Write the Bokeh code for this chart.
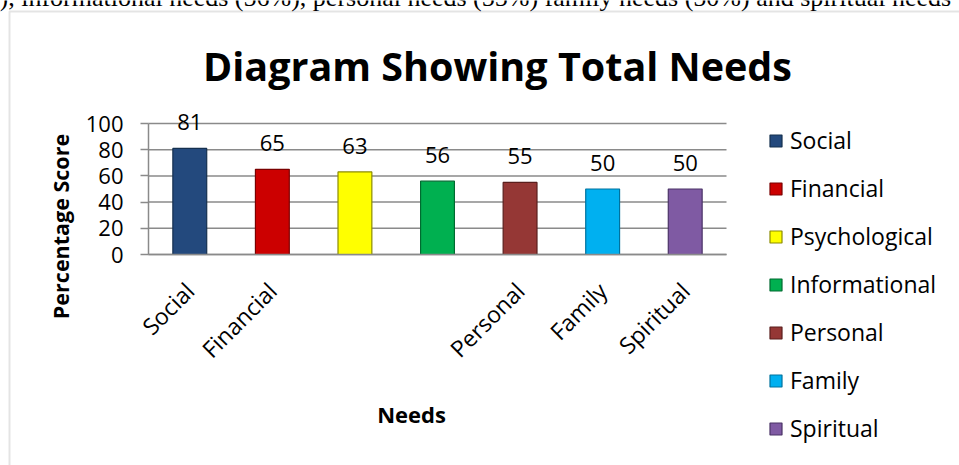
import math
from bokeh.plotting import figure
from bokeh.models import (ColumnDataSource, Range1d, FixedTicker, Label, BoxAnnotation,
                          LinearAxis)
from bokeh.core.properties import value
from bokeh.embed import file_html
from bokeh.resources import INLINE

# ---- data ----
needs = ["Social", "Financial", "Psychological", "Informational", "Personal", "Family", "Spiritual"]
scores = [81, 65, 63, 56, 55, 50, 50]
bar_colors = ["#23497D", "#CC0000", "#FFFF00", "#00B050", "#953735", "#00B0F0", "#7F5AA3"]
edge_colors = ["#15304F", "#7A0000", "#8C8C00", "#006B30", "#5A1F1D", "#00729E", "#4A3266"]
y_ticks = [0, 20, 40, 60, 80, 100]
hidden_x_labels = ["Psychological", "Informational"]
title_text = "Diagram Showing Total Needs"
x_title = "Needs"
y_title = "Percentage Score"
top_text = "), informational needs (56%), personal needs (55%) family needs (50%) and spiritual needs"

# ---- layout (pixels) ----
W, H = 959, 465
plot_left, plot_right, zero_y, top_y = 148, 726, 254, 123
n = len(needs)
pos = list(range(1, n + 1))
x_lo, x_hi = 0.5, n + 0.5
px_x = (plot_right - plot_left) / (x_hi - x_lo)
px_y = (zero_y - top_y) / max(y_ticks)
x_start = x_lo - plot_left / px_x
x_end = x_hi + (W - plot_right) / px_x
y_start = -(H - zero_y) / px_y
y_end = zero_y / px_y

FONT = "Open Sans"
GRID = "#8a8a8a"

source = ColumnDataSource(dict(
    x=pos, needs=needs, scores=scores, colors=bar_colors, edges=edge_colors,
    labels=[str(v) for v in scores],
))

p = figure(
    width=W, height=H, x_range=Range1d(x_start, x_end), y_range=Range1d(y_start, y_end),
    output_backend="svg", toolbar_location=None,
    x_axis_location=None, y_axis_location=None,
    min_border=0, min_border_left=0, min_border_right=0, min_border_top=0, min_border_bottom=0,
)
p.outline_line_color = None
p.background_fill_color = "white"
p.border_fill_color = "white"
p.xgrid.visible = False
p.ygrid.visible = False

# horizontal gridlines over the plot area
p.segment(x0=[x_lo] * len(y_ticks), x1=[x_hi] * len(y_ticks), y0=y_ticks, y1=y_ticks,
          line_color=GRID, line_width=1.5)

bars = p.vbar(x="x", top="scores", width=0.41, source=source,
              fill_color="colors", line_color="edges", line_width=1.2,
              legend_field="needs")

p.text(x="x", y="scores", text="labels", source=source, y_offset=-26,
       text_align="center", text_baseline="alphabetic",
       text_font=value(FONT), text_font_size="22px", text_color="black")

# y axis
ya = LinearAxis(fixed_location=x_lo)
ya.ticker = FixedTicker(ticks=y_ticks)
ya.bounds = (0, max(y_ticks))
ya.axis_line_color = GRID
ya.axis_line_width = 1.5
ya.major_tick_line_color = GRID
ya.major_tick_line_width = 1.5
ya.major_tick_in = 0
ya.major_tick_out = 8
ya.minor_tick_line_color = None
ya.major_label_standoff = 17
ya.major_label_text_font = FONT
ya.major_label_text_font_size = "22px"
ya.major_label_text_color = "black"
p.add_layout(ya, "left")

# x axis
xa = LinearAxis(fixed_location=0)
xa.ticker = FixedTicker(ticks=pos)
xa.bounds = (x_lo, x_hi)
xa.axis_line_color = GRID
xa.axis_line_width = 1.5
xa.major_tick_line_color = None
xa.minor_tick_line_color = None
xa.major_label_orientation = math.pi / 4
xa.major_label_standoff = 26
xa.major_label_text_font = FONT
xa.major_label_text_font_size = "23px"
xa.major_label_text_color = "black"
xa.major_label_overrides = {i: ("" if nm in hidden_x_labels else nm) for i, nm in zip(pos, needs)}
p.add_layout(xa, "below")

# legend
lg = p.legend[0]
lg.location = (768, H - 444)
lg.glyph_width = 15
lg.glyph_height = 15
lg.label_height = 20
lg.label_standoff = 7
lg.spacing = 16
lg.padding = 0
lg.margin = 0
lg.border_line_color = None
lg.background_fill_alpha = 0
lg.label_text_font = FONT
lg.label_text_font_size = "23px"
lg.label_text_color = "black"


def sy(y):
    return H - y

# outer chart border (cropped by page)
p.add_layout(BoxAnnotation(left=9, right=W + 20, top=sy(11), bottom=-20,
                           left_units="screen", right_units="screen",
                           top_units="screen", bottom_units="screen",
                           fill_alpha=0, line_color="#a6a6a6", line_width=2))

p.add_layout(Label(x=497, y=sy(65), x_units="screen", y_units="screen", text=title_text,
                   text_align="center", text_baseline="alphabetic", text_font=FONT,
                   text_font_style="bold", text_font_size="39.5px", text_color="black"))
p.add_layout(Label(x=60, y=sy(226), x_units="screen", y_units="screen", text=y_title,
                   angle=math.pi / 2, text_align="center", text_baseline="middle", text_font=FONT,
                   text_font_style="bold", text_font_size="21.5px", text_color="black"))
p.add_layout(Label(x=411, y=sy(413), x_units="screen", y_units="screen", text=x_title,
                   text_align="center", text_baseline="alphabetic", text_font=FONT,
                   text_font_style="bold", text_font_size="22px", text_color="black"))
p.add_layout(Label(x=-1, y=sy(-3), x_units="screen", y_units="screen", text=top_text,
                   text_align="left", text_baseline="alphabetic", text_font="Liberation Serif",
                   text_font_size="26px", text_color="black"))

open("out.html", "w").write(file_html(p, INLINE))
